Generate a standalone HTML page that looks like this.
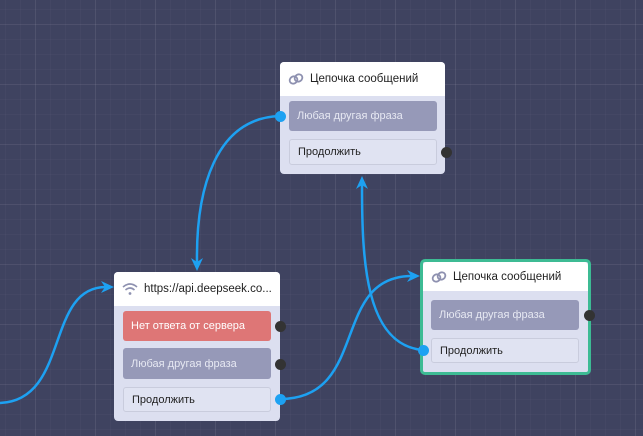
<!DOCTYPE html>
<html><head><meta charset="utf-8"><style>
body{margin:0;width:643px;height:436px;overflow:hidden;background:#3f4360;font-family:"Liberation Sans",sans-serif;position:relative}
.grid{position:absolute;inset:0;
background-image:
linear-gradient(to right,rgba(255,255,255,0.06) 1px,transparent 1px),
linear-gradient(to bottom,rgba(255,255,255,0.05) 1px,transparent 1px),
linear-gradient(to right,rgba(255,255,255,0.025) 1px,transparent 1px),
linear-gradient(to bottom,rgba(255,255,255,0.025) 1px,transparent 1px);
background-size:60px 60px,60px 60px,15px 15px,15px 15px;
background-position:35px 24px,35px 24px,5px 9px,5px 9px}
.node{position:absolute;background:#dcdff0;border-radius:4px;box-sizing:border-box;overflow:visible}
.hd{background:#fff;border-radius:4px 4px 0 0;height:34px;display:flex;align-items:center;padding-left:8px;font-size:11.5px;color:#222}
.hd svg{margin-right:6px}
.it{position:absolute;border-radius:3px;font-size:11px;padding-left:8px;display:flex;align-items:center;box-sizing:border-box}
.g{background:#9699b8;color:#e6e8f2}
.r{background:#de7676;color:#fff}
.p{background:#e0e3f2;border:1px solid #c9ccdd;color:#222}
.dot{position:absolute;width:11px;height:11px;border-radius:50%;margin:-5.5px 0 0 -5.5px}
.dk{background:#333}.bl{background:#1da1f2}
</style></head><body>
<div class="grid"></div>
<svg width="643" height="436" style="position:absolute;left:0;top:0">
<g fill="none" stroke="#1da1f2" stroke-width="2.5">
<path d="M280,116 C215,118 196,190 197,262"/>
<path d="M0,403 C70,400 45,287 106,287"/>
<path d="M280,399 C370,399 330,276 412,276"/>
<path d="M423,350 C365,345 362,260 362,185"/>
</g>
<g fill="#1da1f2">
<path d="M197,271 L191,258 L197,262 L203,258Z"/>
<path d="M114,287 L101,281 L105,287 L101,293Z"/>
<path d="M420,276 L407,270 L411,276 L407,282Z"/>
<path d="M362,176 L356,189 L362,185 L368,189Z"/>
</g>
</svg>
<div class="node" style="left:280px;top:62px;width:165px;height:112px">
<div class="hd"><svg width="16" height="12" viewBox="0 0 16 12"><g fill="none" stroke="#8e91b0" stroke-width="1.8"><ellipse cx="5.5" cy="7" rx="4" ry="3.5" transform="rotate(-35 5.5 7)"/><ellipse cx="10.5" cy="5" rx="4" ry="3.5" transform="rotate(-35 10.5 5)"/></g></svg>Цепочка сообщений</div>
<div class="it g" style="left:9px;top:39px;width:148px;height:30px">Любая другая фраза</div>
<div class="it p" style="left:9px;top:77px;width:148px;height:26px">Продолжить</div>
</div>
<div class="node" style="left:114px;top:272px;width:166px;height:149px">
<div class="hd"><svg width="16" height="12" viewBox="0 0 16 12"><g fill="none" stroke="#8e91b0" stroke-width="1.6"><path d="M1,4 Q8,-2 15,4"/><path d="M3.5,7 Q8,3 12.5,7"/></g><circle cx="8" cy="10.5" r="1.4" fill="#8e91b0"/></svg>https://api.deepseek.co...</div>
<div class="it r" style="left:9px;top:39px;width:148px;height:30px">Нет ответа от сервера</div>
<div class="it g" style="left:9px;top:76px;width:148px;height:31px">Любая другая фраза</div>
<div class="it p" style="left:9px;top:115px;width:148px;height:25px">Продолжить</div>
</div>
<div class="node" style="left:420px;top:259px;width:171px;height:116px;border:3px solid #3dbb94;border-radius:5px">
<div class="hd" style="height:29px"><svg width="16" height="12" viewBox="0 0 16 12"><g fill="none" stroke="#8e91b0" stroke-width="1.8"><ellipse cx="5.5" cy="7" rx="4" ry="3.5" transform="rotate(-35 5.5 7)"/><ellipse cx="10.5" cy="5" rx="4" ry="3.5" transform="rotate(-35 10.5 5)"/></g></svg>Цепочка сообщений</div>
<div class="it g" style="left:8px;top:38px;width:148px;height:30px">Любая другая фраза</div>
<div class="it p" style="left:8px;top:76px;width:148px;height:25px">Продолжить</div>
</div>
<div class="dot bl" style="left:280px;top:116px"></div>
<div class="dot dk" style="left:446px;top:152px"></div>
<div class="dot dk" style="left:280px;top:326px"></div>
<div class="dot dk" style="left:280px;top:364px"></div>
<div class="dot bl" style="left:280px;top:399px"></div>
<div class="dot dk" style="left:589px;top:315px"></div>
<div class="dot bl" style="left:423px;top:350px"></div>
</body></html>
